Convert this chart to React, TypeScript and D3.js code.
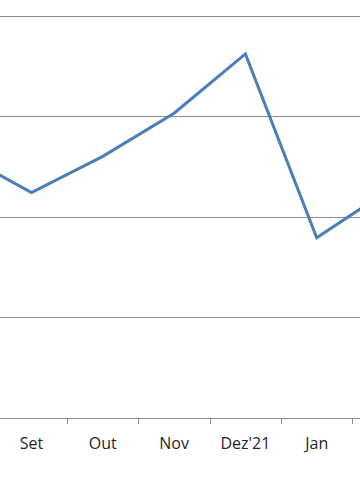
import React from "react";
import * as d3 from "d3";

const categories = ["Ago", "Set", "Out", "Nov", "Dez'21", "Jan", "Fev"];
const values = [2.63, 2.24, 2.6, 3.03, 3.62, 1.79, 2.26];
const visibleLabels = ["Set", "Out", "Nov", "Dez'21", "Jan"];
const gridValues = [1, 2, 3, 4];

const W = 360;
const H = 504;

export default function App() {
  const step = 71.3;
  const start = 31.5 - step * 1.5;
  const x = d3
    .scaleBand<string>()
    .domain(categories)
    .range([start, start + step * categories.length])
    .paddingInner(0)
    .paddingOuter(0);
  const y = d3.scaleLinear().domain([0, 4]).range([417.7, 15.7]);
  const cx = (c: string) => (x(c) ?? 0) + x.bandwidth() / 2;

  const line = d3
    .line<number>()
    .x((_, i) => cx(categories[i]))
    .y((d) => y(d));

  const boundaries = categories.map((c) => (x(c) ?? 0)).concat([(x(categories[categories.length - 1]) ?? 0) + x.bandwidth()]);
  const axisY = Math.round(y(0)) + 0.5;

  return (
    <svg
      width={W}
      height={H}
      style={{ position: "absolute", left: 0, top: 0, background: "#fff" }}
    >
      {gridValues.map((g) => (
        <line
          key={g}
          x1={0}
          x2={W}
          y1={Math.round(y(g)) + 0.5}
          y2={Math.round(y(g)) + 0.5}
          stroke="#8c8c8c"
          strokeWidth={1.2}
        />
      ))}
      <line x1={0} x2={W} y1={axisY} y2={axisY} stroke="#8c8c8c" strokeWidth={1.2} />
      {boundaries.map((b, i) => (
        <line
          key={i}
          x1={Math.round(b) + 0.5}
          x2={Math.round(b) + 0.5}
          y1={axisY}
          y2={axisY + 5.5}
          stroke="#8c8c8c"
          strokeWidth={1}
        />
      ))}
      {visibleLabels.map((c) => (
        <text
          key={c}
          x={cx(c)}
          y={449}
          textAnchor="middle"
          fontFamily="'Open Sans', sans-serif"
          fontSize={16}
          fill="#262626"
        >
          {c}
        </text>
      ))}
      <path
        d={line(values) ?? ""}
        fill="none"
        stroke="#4a7ebb"
        strokeWidth={3}
        strokeLinejoin="miter"
      />
    </svg>
  );
}
